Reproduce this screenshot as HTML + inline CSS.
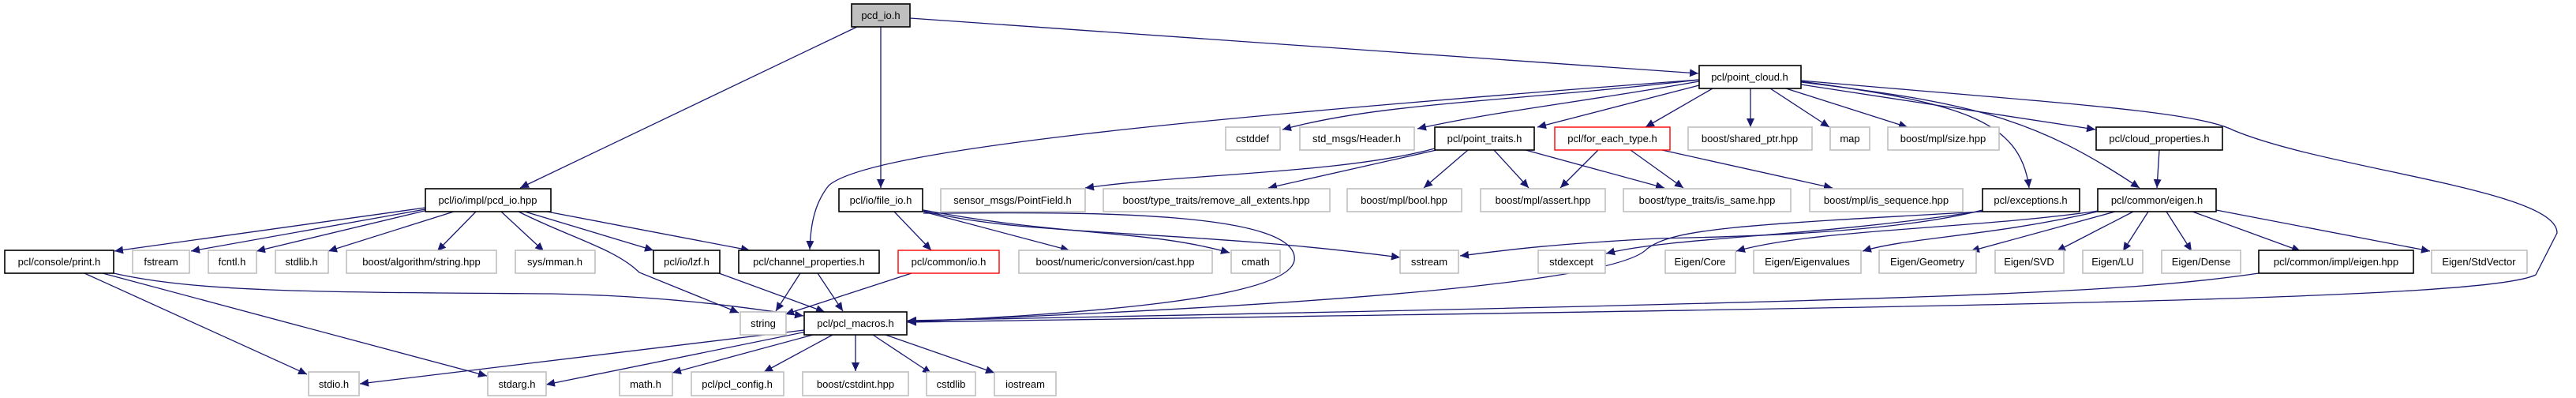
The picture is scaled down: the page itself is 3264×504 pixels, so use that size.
<!DOCTYPE html>
<html><head><meta charset="utf-8">
<style>
html,body{margin:0;padding:0;background:#fff;}
svg{display:block;}
text{font-family:"Liberation Sans","DejaVu Sans",sans-serif;font-size:13px;fill:#000;text-anchor:middle;}
.e{fill:none;stroke:#191970;stroke-width:1.3;marker-end:url(#a);}
.b{fill:#fff;stroke:#000;stroke-width:1.6;}
.g{fill:#fff;stroke:#c0c0c0;stroke-width:1.6;}
.r{fill:#fff;stroke:#ff0000;stroke-width:1.4;}
</style></head><body>
<svg width="3264" height="504" viewBox="0 0 3264 504" xmlns="http://www.w3.org/2000/svg">
<defs><marker id="a" markerUnits="userSpaceOnUse" markerWidth="12" markerHeight="10" refX="11" refY="5" orient="auto"><path d="M0,0 L11,5 L0,10 z" fill="#191970"/></marker></defs>
<!-- edges -->
<path class="e" d="M1086,34 L659,238"/>
<path class="e" d="M1116,34 L1116,238"/>
<path class="e" d="M1153,23 L2152,93"/>
<path class="e" d="M2153,101 C1500,150 1100,190 1050,235 C1030,260 1027,290 1026,316"/>
<path class="e" d="M2153,101 C1900,130 1750,130 1625,164"/>
<path class="e" d="M2153,103 C2000,130 1900,140 1796,163"/>
<path class="e" d="M2153,108 L1948,161"/>
<path class="e" d="M2170,112 L2085,161"/>
<path class="e" d="M2218,112 L2218,161"/>
<path class="e" d="M2243,112 L2318,161"/>
<path class="e" d="M2263,112 L2417,161"/>
<path class="e" d="M2282,107 L2655,164"/>
<path class="e" d="M2282,103 C2480,130 2560,150 2571,238"/>
<path class="e" d="M2282,104 C2500,130 2580,150 2711,238"/>
<path class="e" d="M2282,102 C2600,130 2780,140 2830,165 C2950,215 3240,240 3240,295 L3213,348 C3150,380 2500,388 1150,408"/>
<path class="e" d="M2736,190 L2733,238"/>
<path class="e" d="M1818,188 C1700,220 1500,220 1375,238"/>
<path class="e" d="M1820,190 L1607,238"/>
<path class="e" d="M1860,190 L1804,238"/>
<path class="e" d="M1893,190 L1937,238"/>
<path class="e" d="M1933,190 L2109,238"/>
<path class="e" d="M2025,190 L1977,238"/>
<path class="e" d="M2066,190 L2133,238"/>
<path class="e" d="M2106,190 L2322,238"/>
<path class="e" d="M539,263 L145,318"/>
<path class="e" d="M539,265 L242,318"/>
<path class="e" d="M542,266 L325,318"/>
<path class="e" d="M575,268 L416,318"/>
<path class="e" d="M603,268 L554,318"/>
<path class="e" d="M635,268 L689,318"/>
<path class="e" d="M657,268 C720,300 780,315 810,345 L936,396"/>
<path class="e" d="M665,268 L828,317"/>
<path class="e" d="M693,268 L950,317"/>
<path class="e" d="M1133,268 L1180,317"/>
<path class="e" d="M1170,268 L1355,317"/>
<path class="e" d="M1170,266 C1350,300 1450,290 1558,320"/>
<path class="e" d="M1170,267 C1300,300 1500,290 1774,326"/>
<path class="e" d="M1170,270 C1300,270 1650,260 1640,330 C1630,385 1300,400 1150,408"/>
<path class="e" d="M144,346 C250,370 400,370 700,372 C850,375 950,390 1018,400"/>
<path class="e" d="M107,346 L389,474"/>
<path class="e" d="M130,346 L617,476"/>
<path class="e" d="M1014,346 L983,394"/>
<path class="e" d="M1036,346 L1068,394"/>
<path class="e" d="M911,346 L1045,395"/>
<path class="e" d="M1155,346 L995,398"/>
<path class="e" d="M1019,418 L456,486"/>
<path class="e" d="M1022,420 L692,487"/>
<path class="e" d="M1030,424 L852,472"/>
<path class="e" d="M1055,424 L968,471"/>
<path class="e" d="M1084,424 L1084,470"/>
<path class="e" d="M1106,424 L1180,473"/>
<path class="e" d="M1122,424 L1260,472"/>
<path class="e" d="M2512,266 C2400,295 2200,300 2100,302 C1950,310 1900,318 1850,324"/>
<path class="e" d="M2512,267 C2300,300 2120,300 2035,321"/>
<path class="e" d="M2512,268 C2200,285 2120,290 2087,315 C2060,345 1850,380 1150,407"/>
<path class="e" d="M2659,267 C2500,290 2300,290 2200,318"/>
<path class="e" d="M2662,267 C2520,300 2420,300 2360,318"/>
<path class="e" d="M2680,268 L2497,318"/>
<path class="e" d="M2703,268 L2606,318"/>
<path class="e" d="M2722,268 L2690,318"/>
<path class="e" d="M2745,268 L2777,318"/>
<path class="e" d="M2778,268 L2915,318"/>
<path class="e" d="M2808,266 L3079,318"/>
<path class="e" d="M2862,346 C2700,370 2500,380 1150,406"/>
<!-- nodes -->
<rect x="1079" y="5" width="74" height="29" fill="#bfbfbf" stroke="#000" stroke-width="1.6"/><text x="1116" y="24">pcd_io.h</text>
<rect class="b" x="2153" y="83" width="129" height="29"/><text x="2217" y="102">pcl/point_cloud.h</text>
<rect class="g" x="1553" y="161" width="69" height="29"/><text x="1587" y="180">cstddef</text>
<rect class="g" x="1647" y="161" width="145" height="29"/><text x="1719" y="180">std_msgs/Header.h</text>
<rect class="b" x="1818" y="161" width="126" height="29"/><text x="1881" y="180">pcl/point_traits.h</text>
<rect class="r" x="1970" y="161" width="146" height="29"/><text x="2043" y="180">pcl/for_each_type.h</text>
<rect class="g" x="2139" y="161" width="157" height="29"/><text x="2217" y="180">boost/shared_ptr.hpp</text>
<rect class="g" x="2319" y="161" width="50" height="29"/><text x="2344" y="180">map</text>
<rect class="g" x="2392" y="161" width="141" height="29"/><text x="2462" y="180">boost/mpl/size.hpp</text>
<rect class="b" x="2656" y="161" width="160" height="29"/><text x="2736" y="180">pcl/cloud_properties.h</text>
<rect class="b" x="539" y="239" width="159" height="29"/><text x="618" y="258">pcl/io/impl/pcd_io.hpp</text>
<rect class="b" x="1063" y="239" width="106" height="29"/><text x="1116" y="258">pcl/io/file_io.h</text>
<rect class="g" x="1192" y="239" width="183" height="29"/><text x="1283" y="258">sensor_msgs/PointField.h</text>
<rect class="g" x="1398" y="239" width="287" height="29"/><text x="1541" y="258">boost/type_traits/remove_all_extents.hpp</text>
<rect class="g" x="1707" y="239" width="145" height="29"/><text x="1779" y="258">boost/mpl/bool.hpp</text>
<rect class="g" x="1876" y="239" width="158" height="29"/><text x="1955" y="258">boost/mpl/assert.hpp</text>
<rect class="g" x="2057" y="239" width="212" height="29"/><text x="2163" y="258">boost/type_traits/is_same.hpp</text>
<rect class="g" x="2293" y="239" width="194" height="29"/><text x="2390" y="258">boost/mpl/is_sequence.hpp</text>
<rect class="b" x="2512" y="239" width="123" height="29"/><text x="2573" y="258">pcl/exceptions.h</text>
<rect class="b" x="2658" y="239" width="150" height="29"/><text x="2733" y="258">pcl/common/eigen.h</text>
<rect class="b" x="6" y="317" width="138" height="29"/><text x="75" y="336">pcl/console/print.h</text>
<rect class="g" x="168" y="317" width="72" height="29"/><text x="204" y="336">fstream</text>
<rect class="g" x="264" y="317" width="61" height="29"/><text x="294" y="336">fcntl.h</text>
<rect class="g" x="349" y="317" width="67" height="29"/><text x="382" y="336">stdlib.h</text>
<rect class="g" x="439" y="317" width="190" height="29"/><text x="534" y="336">boost/algorithm/string.hpp</text>
<rect class="g" x="653" y="317" width="101" height="29"/><text x="703" y="336">sys/mman.h</text>
<rect class="b" x="828" y="317" width="84" height="29"/><text x="870" y="336">pcl/io/lzf.h</text>
<rect class="b" x="936" y="317" width="178" height="29"/><text x="1025" y="336">pcl/channel_properties.h</text>
<rect class="r" x="1138" y="317" width="128" height="29"/><text x="1202" y="336">pcl/common/io.h</text>
<rect class="g" x="1291" y="317" width="245" height="29"/><text x="1413" y="336">boost/numeric/conversion/cast.hpp</text>
<rect class="g" x="1560" y="317" width="62" height="29"/><text x="1591" y="336">cmath</text>
<rect class="g" x="1774" y="317" width="74" height="29"/><text x="1811" y="336">sstream</text>
<rect class="g" x="1949" y="317" width="85" height="29"/><text x="1991" y="336">stdexcept</text>
<rect class="g" x="2110" y="317" width="89" height="29"/><text x="2154" y="336">Eigen/Core</text>
<rect class="g" x="2222" y="317" width="136" height="29"/><text x="2290" y="336">Eigen/Eigenvalues</text>
<rect class="g" x="2381" y="317" width="123" height="29"/><text x="2442" y="336">Eigen/Geometry</text>
<rect class="g" x="2528" y="317" width="87" height="29"/><text x="2571" y="336">Eigen/SVD</text>
<rect class="g" x="2639" y="317" width="76" height="29"/><text x="2677" y="336">Eigen/LU</text>
<rect class="g" x="2739" y="317" width="100" height="29"/><text x="2789" y="336">Eigen/Dense</text>
<rect class="b" x="2862" y="317" width="196" height="29"/><text x="2960" y="336">pcl/common/impl/eigen.hpp</text>
<rect class="g" x="3081" y="317" width="121" height="29"/><text x="3141" y="336">Eigen/StdVector</text>
<rect class="g" x="938" y="395" width="58" height="29"/><text x="967" y="414">string</text>
<rect class="b" x="1019" y="395" width="130" height="29"/><text x="1084" y="414">pcl/pcl_macros.h</text>
<rect class="g" x="391" y="471" width="64" height="30"/><text x="423" y="491">stdio.h</text>
<rect class="g" x="618" y="471" width="74" height="30"/><text x="655" y="491">stdarg.h</text>
<rect class="g" x="785" y="471" width="67" height="30"/><text x="818" y="491">math.h</text>
<rect class="g" x="876" y="471" width="117" height="30"/><text x="934" y="491">pcl/pcl_config.h</text>
<rect class="g" x="1017" y="471" width="134" height="30"/><text x="1084" y="491">boost/cstdint.hpp</text>
<rect class="g" x="1174" y="471" width="62" height="30"/><text x="1205" y="491">cstdlib</text>
<rect class="g" x="1260" y="471" width="78" height="30"/><text x="1299" y="491">iostream</text>
</svg>
</body></html>
